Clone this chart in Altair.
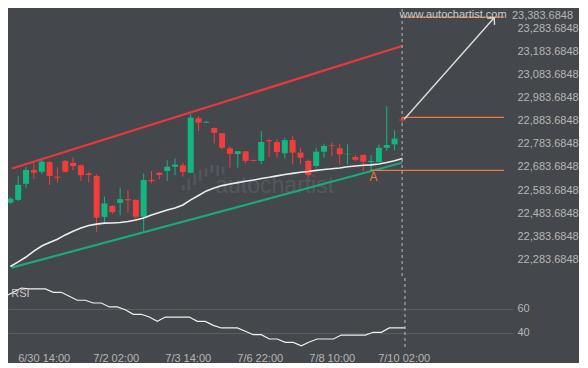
import altair as alt
import pandas as pd

# ---------------- data ----------------
opens = [22529, 22541, 22611, 22671, 22663, 22705, 22642, 22710, 22702, 22691,
         22655, 22645, 22467, 22515, 22528, 22544, 22541, 22468, 22627, 22659,
         22666, 22685, 22691, 22659, 22895, 22876, 22853, 22830, 22765, 22740,
         22752, 22714, 22710, 22800, 22792, 22743, 22801, 22746, 22710, 22688,
         22750, 22778, 22765, 22739, 22727, 22736, 22705, 22705, 22767, 22782]
closes = [22546, 22606, 22671, 22659, 22707, 22645, 22637, 22663, 22688, 22648,
          22649, 22464, 22526, 22488, 22544, 22539, 22468, 22627, 22622, 22649,
          22685, 22694, 22662, 22898, 22876, 22880, 22832, 22767, 22741, 22752,
          22710, 22710, 22792, 22795, 22749, 22800, 22746, 22724, 22649, 22750,
          22775, 22775, 22739, 22741, 22715, 22707, 22710, 22767, 22779, 22807]
highs = [22554, 22645, 22685, 22702, 22718, 22710, 22681, 22714, 22724, 22695,
         22663, 22652, 22555, 22519, 22594, 22584, 22543, 22655, 22666, 22662,
         22714, 22720, 22702, 22912, 22905, 22883, 22855, 22831, 22775, 22753,
         22753, 22716, 22840, 22807, 22804, 22810, 22818, 22767, 22717, 22767,
         22785, 22789, 22785, 22782, 22736, 22738, 22735, 22782, 22948, 22843]
lows = [22523, 22536, 22594, 22632, 22653, 22606, 22616, 22660, 22669, 22623,
        22616, 22402, 22442, 22479, 22474, 22485, 22449, 22402, 22613, 22630,
        22623, 22648, 22642, 22658, 22840, 22874, 22786, 22760, 22681, 22681,
        22700, 22708, 22695, 22727, 22724, 22720, 22695, 22695, 22611, 22681,
        22724, 22731, 22695, 22695, 22710, 22666, 22666, 22703, 22753, 22756]

ma_values = [22252, 22272, 22293, 22319, 22341, 22356, 22370, 22389, 22405, 22419,
             22430, 22436, 22440, 22441, 22443, 22447, 22454, 22462, 22475, 22486,
             22497, 22506, 22519, 22541, 22560, 22580, 22593, 22603, 22610, 22616,
             22622, 22627, 22634, 22639, 22645, 22651, 22656, 22661, 22664, 22669,
             22673, 22676, 22679, 22685, 22688, 22691, 22693, 22697, 22703, 22711,
             22721]

rsi_values = [70.6, 74.0, 77.5, 76.7, 76.7, 76.7, 73.9, 73.9, 70.6, 67.3,
              67.3, 65.0, 65.0, 61.7, 61.7, 59.4, 55.6, 55.6, 53.3, 49.7,
              53.3, 53.3, 53.3, 53.3, 49.7, 49.7, 46.4, 44.2, 44.2, 44.2,
              41.4, 38.6, 38.6, 35.0, 35.0, 32.2, 32.2, 29.4, 32.5, 35.0,
              35.0, 35.0, 38.3, 38.3, 38.3, 38.3, 40.6, 40.6, 44.2, 44.2,
              44.2]

# channel lines (start / end)
upper_idx = [0.21, 49.96]
upper_price = [22677, 23208.6]
lower_idx = [0.17, 49.96]
lower_price = [22247, 22702]

# pattern levels (orange)
level_start = [49.96, 49.96, 45.96]
level_end = [62.96, 62.96, 62.96]
level_price = [23334, 22899, 22669]

# forecast arrow
arrow_idx = [50.2, 61.7]
arrow_price = [22890, 23331]

# faint watermark logo bars
logo_idx = [22.05, 22.75, 23.5, 24.21, 24.96, 25.68, 26.43, 27.13]
logo_low = [22582.6, 22582.6, 22605.6, 22622.9, 22641.6, 22659.0, 22644.6, 22654.7]
logo_high = [22605.6, 22634.7, 22656.4, 22670.7, 22678.0, 22692.4, 22691.1, 22683.7]

price_ticks = [22283.6848, 22383.6848, 22483.6848, 22583.6848, 22683.6848,
               22783.6848, 22883.6848, 22983.6848, 23083.6848, 23183.6848,
               23283.6848]
top_price_label = [23383.6848]

x_tick_pos = [4.8, 13.8, 22.8, 31.8, 40.8, 49.8]
x_tick_labels = ["6/30 14:00", "7/2 02:00", "7/3 14:00", "7/6 22:00", "7/8 10:00", "7/10 02:00"]

now_idx = 49.96
rsi_grid = [40, 60]

# ---------------- styling ----------------
BG = "#44474c"
UP = "#14b680"
DOWN = "#f33d3d"
RES = "#e8393d"
SUP = "#1aa97a"
ORANGE = "#f07a3c"
LABEL = "#b6b6b6"
FONT = "Liberation Sans"

W = 505
H_MAIN = 267
H_RSI = 70

xscale = alt.Scale(domain=[0.3375, 63.4625], nice=False, zero=False)
yscale = alt.Scale(domain=[22210.8, 23369.1], nice=False, zero=False)
rsiscale = alt.Scale(domain=[27.5, 85.83], nice=False, zero=False)

n = len(opens)
candles = pd.DataFrame({"idx": list(range(n)), "open": opens, "high": highs,
                        "low": lows, "close": closes})
candles["dir"] = ["up" if c >= o else "down" for o, c in zip(opens, closes)]

color = alt.Color("dir:N", scale=alt.Scale(domain=["up", "down"], range=[UP, DOWN]), legend=None)

price_axis = alt.Axis(orient="right", values=price_ticks, format=",.4f", grid=False,
                      ticks=False, domain=False, labelPadding=4, labelColor=LABEL,
                      labelFontSize=11, labelFont=FONT, title=None)

label_expr = ""
for p, lab in zip(x_tick_pos, x_tick_labels):
    label_expr += f"abs(datum.value - {p}) < 0.5 ? '{lab}' : "
label_expr += "''"

x_axis = alt.Axis(values=x_tick_pos, labelExpr=label_expr, ticks=False, domain=False,
                  grid=False, labelColor=LABEL, labelFontSize=11, labelFont=FONT,
                  labelPadding=4, title=None, labelFlush=False, labelOverlap=False)
rsi_axis = alt.Axis(orient="right", values=rsi_grid, grid=True, gridColor="#5a5d62",
                    gridWidth=1, ticks=False, domain=False, labelPadding=4,
                    labelColor=LABEL, labelFontSize=11, labelFont=FONT, title=None)


def X(f="idx"):
    return alt.X(f + ":Q", scale=xscale, axis=None)


def Yp(f="price"):
    return alt.Y(f + ":Q", scale=yscale, axis=price_axis)


def XR(f="idx"):
    return alt.X(f + ":Q", scale=xscale, axis=x_axis)


def YR(f="rsi"):
    return alt.Y(f + ":Q", scale=rsiscale, axis=rsi_axis)


logo_df = pd.DataFrame({"idx": logo_idx, "price": logo_low, "price2": logo_high})
logo = alt.Chart(logo_df).mark_bar(size=2.6, color="#53565b").encode(
    x=X(), y=Yp(), y2="price2:Q")
wm_txt = alt.Chart(pd.DataFrame({"idx": [33.7], "price": [22603], "t": ["autochartist"]})).mark_text(
    color="#54575c", fontSize=23, font=FONT).encode(x=X(), y=Yp(), text="t:N")

wicks = alt.Chart(candles).mark_rule(clip=True, strokeWidth=1).encode(
    x=X(), y=Yp("low"), y2="high:Q", color=color)
bodies = alt.Chart(candles).mark_bar(size=6, clip=True).encode(
    x=X(), y=Yp("open"), y2="close:Q", color=color)

ma_df = pd.DataFrame({"idx": list(range(len(ma_values))), "price": ma_values})
ma_line = alt.Chart(ma_df).mark_line(color="#ededed", strokeWidth=1.6, clip=True).encode(x=X(), y=Yp())

up_df = pd.DataFrame({"idx": upper_idx, "price": upper_price})
lo_df = pd.DataFrame({"idx": lower_idx, "price": lower_price})
upper = alt.Chart(up_df).mark_line(color=RES, strokeWidth=2.2, clip=True).encode(x=X(), y=Yp())
lower = alt.Chart(lo_df).mark_line(color=SUP, strokeWidth=2.2, clip=True).encode(x=X(), y=Yp())

lv_df = pd.DataFrame({"idx": level_start, "idx2": level_end, "price": level_price})
levels = alt.Chart(lv_df).mark_rule(color=ORANGE, strokeWidth=1.3).encode(
    x=X(), x2="idx2:Q", y=Yp())

ar_df = pd.DataFrame({"idx": arrow_idx, "price": arrow_price})
arrow = alt.Chart(ar_df).mark_line(color="#dedede", strokeWidth=1.4).encode(x=X(), y=Yp())
head = alt.Chart(ar_df.tail(1)).mark_point(
    shape="M -1 1 L 0 0 L 1 1", size=100, angle=42, filled=False,
    color="#dedede", strokeWidth=1.4, opacity=1).encode(x=X(), y=Yp())
cross = alt.Chart(pd.DataFrame({"idx": [now_idx], "price": [22887.6]})).mark_point(
    shape="M -1 0 L 1 0 M 0 -1 L 0 1", size=36, filled=False, color=DOWN,
    strokeWidth=1, opacity=1).encode(x=X(), y=Yp())

now_df = pd.DataFrame({"idx": [now_idx]})
dashed = alt.Chart(now_df).mark_rule(color="#bdbdbd", strokeDash=[3, 3], strokeWidth=1).encode(x=X())

a_txt = alt.Chart(pd.DataFrame({"idx": [46.3], "price": [22642], "t": ["A"]})).mark_text(
    color=ORANGE, fontSize=12, font=FONT).encode(x=X(), y=Yp(), text="t:N")
www_txt = alt.Chart(pd.DataFrame({"idx": [56.46], "price": [23343], "t": ["www.autochartist.com"]})).mark_text(
    color="#c9c9c9", fontSize=11, font=FONT).encode(x=X(), y=Yp(), text="t:N")
top_lbl = alt.Chart(pd.DataFrame({"idx": [63.96], "price": top_price_label, "t": ["23,383.6848"]})).mark_text(
    color=LABEL, fontSize=11, font=FONT, align="left", baseline="top", dy=4).encode(
    x=X(), y=Yp(), text="t:N")

main = alt.layer(wicks, logo, wm_txt, bodies, upper, lower, ma_line, levels, dashed, arrow, head,
                 cross, a_txt, www_txt, top_lbl).properties(width=W, height=H_MAIN)

# ---------------- RSI panel ----------------
rsi_df = pd.DataFrame({"idx": list(range(len(rsi_values))), "rsi": rsi_values})
rsi_line = alt.Chart(rsi_df).mark_line(color="#f0f0f0", strokeWidth=1.2, clip=True).encode(
    x=XR(), y=YR())
rsi_txt = alt.Chart(pd.DataFrame({"idx": [1.9], "rsi": [72.5], "t": ["RSI"]})).mark_text(
    color="#c8c8c8", fontSize=11, font=FONT).encode(x=XR(), y=YR(), text="t:N")
rsi_dash = alt.Chart(now_df).mark_rule(color="#bdbdbd", strokeDash=[3, 3], strokeWidth=1).encode(x=XR())

rsi = alt.layer(rsi_line, rsi_dash, rsi_txt).properties(width=W, height=H_RSI)

chart = alt.vconcat(main, rsi, spacing=0).properties(padding=0).configure(
    background=BG, font=FONT).configure_view(stroke=None)

chart.save("out.html", embed_options={"renderer": "svg", "actions": False})
